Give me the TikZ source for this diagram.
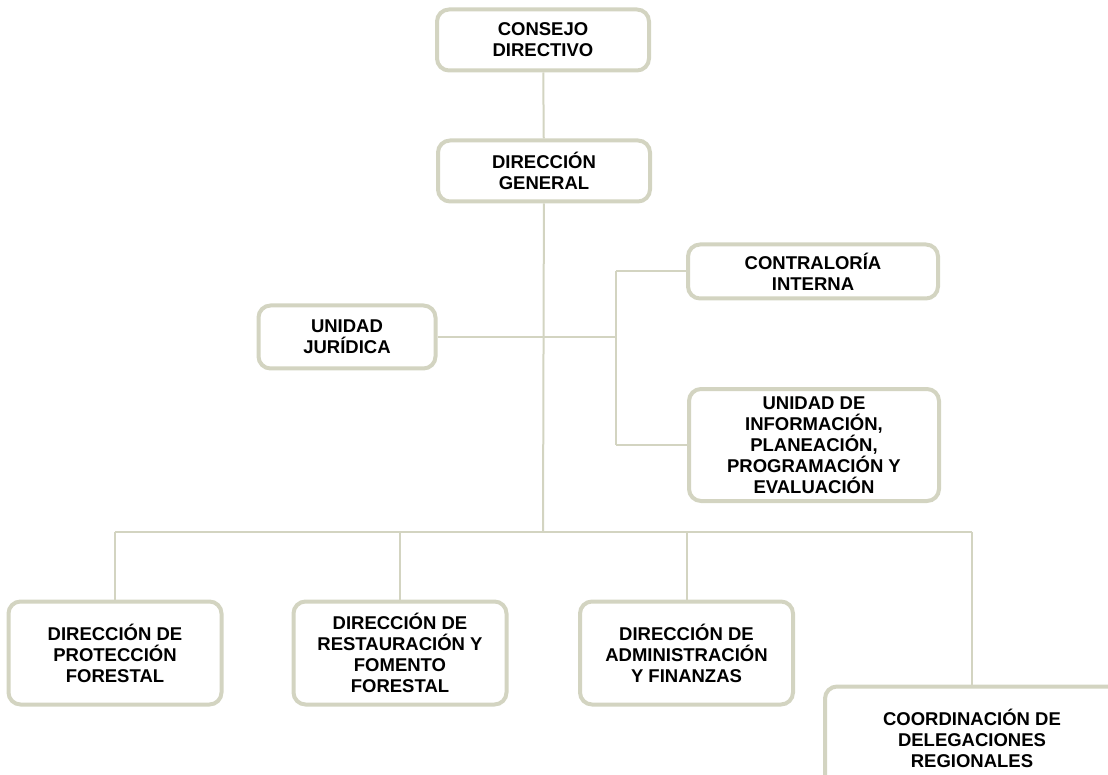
\documentclass[tikz,border=0pt]{standalone}
\usepackage{fontspec}
\setmainfont{Liberation Sans}
\usepackage{xcolor}
\usepackage{tikz}
\usetikzlibrary{calc}
\definecolor{frame}{HTML}{D3D4C1}
\definecolor{ink}{HTML}{000000}
\tikzset{
  unit/.style={draw=frame, line width=4pt, rounded corners=12pt, fill=white,
    align=center, text=ink, inner sep=2pt,
    font=\fontsize{18.5}{21}\selectfont\bfseries},
  small/.style={unit, minimum width=212pt, minimum height=61pt},
  wide/.style={unit, minimum width=250pt},
  low/.style={unit, minimum width=213pt, minimum height=103pt},
  link/.style={draw=frame, line width=2pt},
}

\begin{document}
\begin{tikzpicture}[x=1pt, y=-1pt]
\useasboundingbox (0,0) rectangle (1108,775);
% top of the chart
\node[small] (consejo) at (543,40) {CONSEJO\\DIRECTIVO};
\node[small] (general) at (544,171) {DIRECCIÓN\\GENERAL};

% staff units
\node[wide, minimum height=54pt] (contraloria) at (813,271.5) {CONTRALORÍA\\INTERNA};
\node[unit, minimum width=177pt, minimum height=63pt] (juridica) at (347,337) {UNIDAD\\JURÍDICA};
\node[wide, minimum height=112pt] (informacion) at (814,445) {UNIDAD DE\\INFORMACIÓN,\\PLANEACIÓN,\\PROGRAMACIÓN Y\\EVALUACIÓN};

% line units
\node[low] (proteccion) at (115,653) {DIRECCIÓN DE\\PROTECCIÓN\\FORESTAL};
\node[low] (restauracion) at (400,653) {DIRECCIÓN DE\\RESTAURACIÓN Y\\FOMENTO\\FORESTAL};
\node[low] (administracion) at (686.5,653) {DIRECCIÓN DE\\ADMINISTRACIÓN\\Y FINANZAS};
\node[low, minimum width=294pt] (coordinacion) at (972,738) {COORDINACIÓN DE\\DELEGACIONES\\REGIONALES};

% connectors
\coordinate (bus) at (543,532);
\coordinate (brtop) at (616,271.5);
\coordinate (brbot) at (616,445);
\coordinate (brmid) at (616,337);
\draw[link] (consejo) -- (general);
\draw[link] (general) -- (bus);
\draw[link] (juridica) -- (brmid);
\draw[link] (brtop) -- (brbot);
\draw[link] (brtop) -- (contraloria);
\draw[link] (brbot) -- (informacion);
\draw[link] (proteccion.north |- bus) -- (coordinacion.north |- bus);
\foreach \u in {proteccion,restauracion,administracion,coordinacion}
  \draw[link] (\u.north |- bus) -- (\u);
\end{tikzpicture}
\end{document}
